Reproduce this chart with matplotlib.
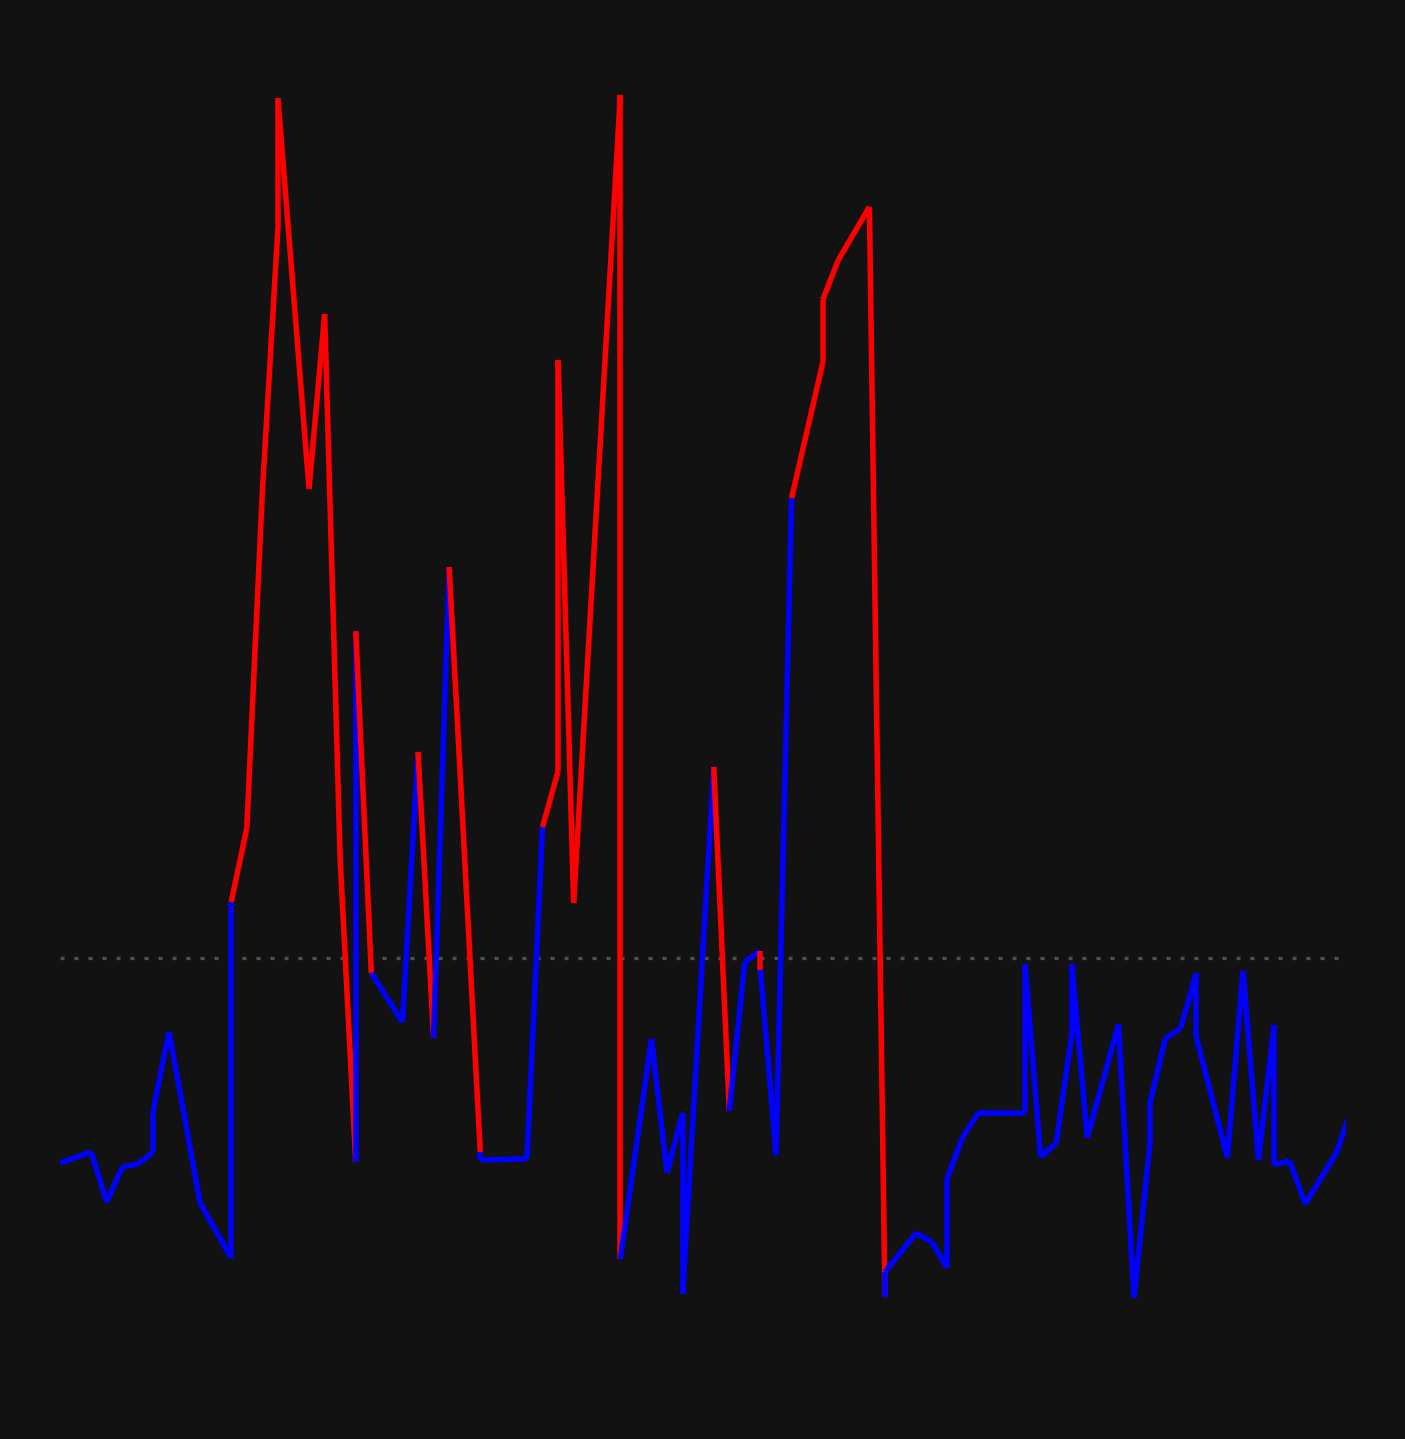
import numpy as np
import matplotlib
matplotlib.use("Agg")
import matplotlib.pyplot as plt
from matplotlib.collections import LineCollection

# sample index (time step) and value; repeated steps are instantaneous jumps
steps = [0, 2, 3, 4, 5, 6, 6, 7, 8, 9, 11, 11, 12, 13, 14, 14, 16, 17, 18, 19,
         19, 20, 22, 23, 24, 25, 27, 27, 30, 31, 32, 32, 33, 36, 36, 38, 39, 40, 40, 42,
         43, 44, 45, 45, 46, 47, 49, 49, 50, 52, 53, 53, 55, 56, 57, 57, 58, 59, 62, 62,
         63, 64, 65, 65, 66, 68, 69, 70, 70, 71, 72, 73, 73, 75, 76, 77, 78, 78, 79, 80,
         82, 83]
values = [41.4, 44.6, 30.3, 40.3, 41.1, 44.6, 56.6, 78.9, 54.6, 30.0,
          14.3, 116.0, 137.1, 233.1, 308.6, 345.7, 234.0, 284.0, 128.0, 41.7,
          193.4, 95.7, 81.7, 158.9, 77.1, 211.7, 44.6, 42.3, 42.6, 137.4,
          153.4, 270.9, 115.7, 346.6, 14.0, 76.9, 38.6, 55.7, 4.0, 154.6,
          56.3, 98.9, 102.0, 96.6, 43.7, 231.4, 270.0, 288.0, 299.4, 314.6,
          3.1, 10.3, 21.4, 18.9, 11.4, 37.1, 48.9, 55.7, 55.7, 98.3,
          43.1, 47.1, 78.0, 98.3, 48.6, 81.1, 2.9, 46.0, 58.0, 76.9,
          80.0, 95.7, 77.4, 42.9, 96.3, 42.3, 80.9, 40.9, 42.0, 29.7,
          44.3, 57.1]
threshold = 100.0

bg = "#111211"
fig = plt.figure(figsize=(14.05, 14.39), dpi=100, facecolor=bg)
ax = fig.add_axes([60 / 1405, 0.0, 1286 / 1405, 1.0])
ax.set_facecolor(bg)

x = np.array(steps, dtype=float)
y = np.array(values, dtype=float)
pts = np.column_stack([x, y])
segs = np.stack([pts[:-1], pts[1:]], axis=1)
cols = ["#ff0000" if v > threshold else "#0000ff" for v in y[:-1]]

ax.axhline(threshold, xmin=0.0, xmax=0.994, color="#505050", lw=2.4,
           linestyle=(0, (1.2, 3.0)), zorder=1)
lc = LineCollection(segs, colors=cols, linewidths=4.0, capstyle="butt", zorder=2)
ax.add_collection(lc)

ax.set_xlim(0, 82.62)
ax.set_ylim(-37.43, 373.71)
ax.axis("off")

fig.savefig("out.png", dpi=100, facecolor=bg)
